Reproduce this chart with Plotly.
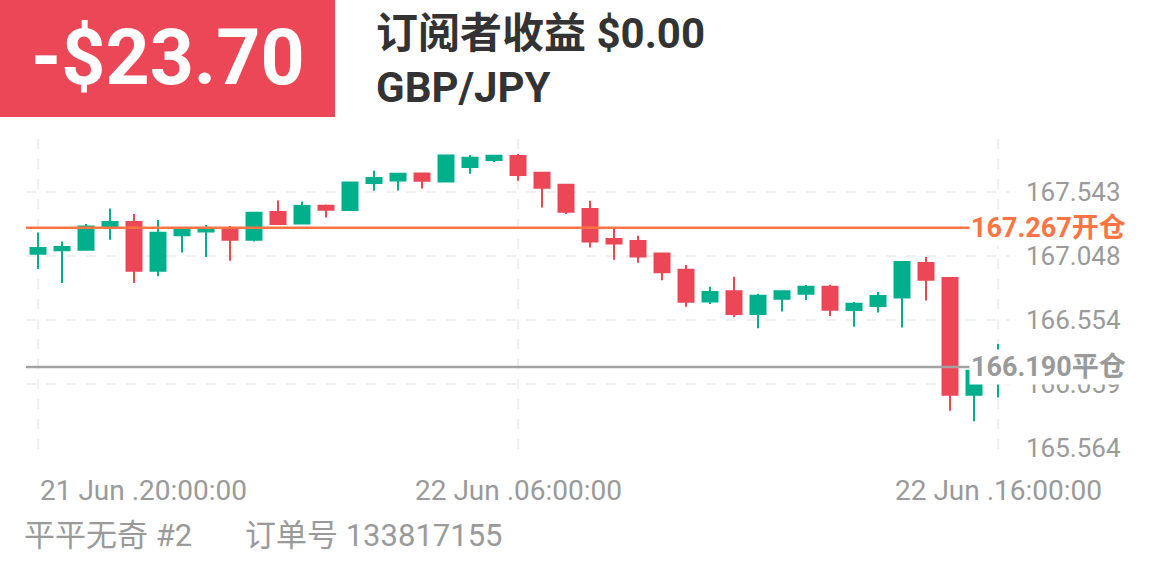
import plotly.graph_objects as go

# ---------------- data ----------------
times = [
    "2023-06-21 20:00", "2023-06-21 20:30", "2023-06-21 21:00", "2023-06-21 21:30",
    "2023-06-21 22:00", "2023-06-21 22:30", "2023-06-21 23:00", "2023-06-21 23:30",
    "2023-06-22 00:00", "2023-06-22 00:30", "2023-06-22 01:00", "2023-06-22 01:30",
    "2023-06-22 02:00", "2023-06-22 02:30", "2023-06-22 03:00", "2023-06-22 03:30",
    "2023-06-22 04:00", "2023-06-22 04:30", "2023-06-22 05:00", "2023-06-22 05:30",
    "2023-06-22 06:00", "2023-06-22 06:30", "2023-06-22 07:00", "2023-06-22 07:30",
    "2023-06-22 08:00", "2023-06-22 08:30", "2023-06-22 09:00", "2023-06-22 09:30",
    "2023-06-22 10:00", "2023-06-22 10:30", "2023-06-22 11:00", "2023-06-22 11:30",
    "2023-06-22 12:00", "2023-06-22 12:30", "2023-06-22 13:00", "2023-06-22 13:30",
    "2023-06-22 14:00", "2023-06-22 14:30", "2023-06-22 15:00", "2023-06-22 15:30",
    "2023-06-22 16:00",
]
opens = [167.066, 167.092, 167.097, 167.277, 167.311, 166.935, 167.208, 167.238,
         167.265, 167.174, 167.388, 167.300, 167.437, 167.404, 167.613, 167.633,
         167.687, 167.625, 167.736, 167.790, 167.821, 167.692, 167.599, 167.412,
         167.180, 167.164, 167.068, 166.942, 166.697, 166.775, 166.600, 166.718,
         166.757, 166.811, 166.631, 166.662, 166.728, 166.994, 166.878, 165.976,
         166.162]
highs = [167.231, 167.161, 167.296, 167.416, 167.373, 167.327, 167.259, 167.288,
         167.280, 167.391, 167.478, 167.470, 167.447, 167.623, 167.708, 167.692,
         167.689, 167.829, 167.829, 167.826, 167.837, 167.694, 167.601, 167.476,
         167.262, 167.205, 167.070, 166.979, 166.811, 166.888, 166.757, 166.780,
         166.824, 166.826, 166.693, 166.770, 167.007, 167.041, 166.880, 166.170,
         166.368]
lows = [166.948, 166.840, 167.095, 167.174, 166.840, 166.891, 167.076, 167.041,
        167.012, 167.161, 167.294, 167.298, 167.347, 167.401, 167.553, 167.555,
        167.571, 167.620, 167.685, 167.775, 167.630, 167.424, 167.373, 167.115,
        167.020, 166.997, 166.860, 166.656, 166.677, 166.574, 166.489, 166.620,
        166.708, 166.585, 166.502, 166.612, 166.496, 166.705, 165.852, 165.770,
        165.955]
closes = [167.110, 167.118, 167.277, 167.311, 166.935, 167.228, 167.257, 167.259,
          167.174, 167.383, 167.296, 167.435, 167.406, 167.617, 167.651, 167.685,
          167.630, 167.826, 167.808, 167.824, 167.674, 167.576, 167.391, 167.161,
          167.146, 167.045, 166.922, 166.695, 166.770, 166.600, 166.741, 166.775,
          166.811, 166.633, 166.680, 166.739, 167.002, 166.865, 165.976, 166.162,
          166.250]

y_grid = [165.564, 166.059, 166.554, 167.048, 167.543, 168.038]
y_labels = ["165.564", "166.059", "166.554", "167.048", "167.543", ""]

x_label_times = ["2023-06-21 20:00", "2023-06-22 06:00", "2023-06-22 16:00"]
x_label_text = ["21 Jun .20:00:00", "22 Jun .06:00:00", "22 Jun .16:00:00"]

open_price = 167.267
close_price = 166.190
open_label = "167.267开仓"
close_label = "166.190平仓"

profit_text = "-$23.70"
subscriber_text = "订阅者收益 $0.00"
symbol_text = "GBP/JPY"
footer_name = "平平无奇 #2"
footer_order = "订单号 133817155"

# ---------------- styling ----------------
W, H = 1161, 580
L, R, T, B = 26, 151, 127, 131
PW, PH = W - L - R, H - T - B

GREEN = "#00AF8C"
RED = "#EB4756"
ORANGE = "#FF7442"
GRAYLINE = "#A3A3A3"
GRID = "#EFEFEF"
LABEL = "#9A9A9A"
DARK = "#333333"
FONT = "Roboto, 'Noto Sans CJK SC', sans-serif"


def px(x):
    return (x - L) / PW


def py(y):
    return (H - B - y) / PH


d = 2.474 / 320
fig = go.Figure()
fig.add_trace(go.Candlestick(
    x=times, open=opens, high=highs, low=lows, close=closes,
    increasing=dict(line=dict(color=GREEN, width=2), fillcolor=GREEN),
    decreasing=dict(line=dict(color=RED, width=2), fillcolor=RED),
    whiskerwidth=0, hoverinfo="skip", showlegend=False,
))

shapes = []
for t in x_label_times:
    shapes.append(dict(type="line", xref="x", yref="paper", x0=t, x1=t,
                       y0=py(449), y1=py(139), layer="below",
                       line=dict(color=GRID, width=2, dash="10px,10px")))
shapes.append(dict(type="line", xref="paper", yref="y", x0=0, x1=px(970),
                   y0=open_price, y1=open_price, line=dict(color=ORANGE, width=2.5)))
shapes.append(dict(type="line", xref="paper", yref="y", x0=0, x1=px(970),
                   y0=close_price, y1=close_price, line=dict(color=GRAYLINE, width=2.5)))
# header red box
shapes.append(dict(type="rect", xref="paper", yref="paper", x0=px(0), x1=px(335),
                   y0=py(117), y1=py(0), fillcolor=RED, line=dict(width=0), layer="above"))

ann = []
ann.append(dict(xref="paper", yref="y", x=px(969), y=open_price, xanchor="left",
                yanchor="middle", text="<b>" + open_label + "</b>", showarrow=False,
                bgcolor="white", borderpad=1,
                font=dict(family=FONT, size=27, color=ORANGE)))
ann.append(dict(xref="paper", yref="y", x=px(969), y=close_price, xanchor="left",
                yanchor="middle", text="<b>" + close_label + "</b>", showarrow=False,
                bgcolor="white", borderpad=1,
                font=dict(family=FONT, size=27, color=LABEL)))
for i, (t, s) in enumerate(zip(x_label_times, x_label_text)):
    ann.append(dict(xref="x", yref="paper", x=t, y=py(490),
                    xanchor="left" if i == 0 else "center", yanchor="middle",
                    text=s, showarrow=False,
                    font=dict(family=FONT, size=28, color=LABEL)))
ann.append(dict(xref="paper", yref="paper", x=px(167.5), y=py(58), xanchor="center",
                yanchor="middle", text="<b>" + profit_text + "</b>", showarrow=False,
                font=dict(family=FONT, size=77, color="white")))
ann.append(dict(xref="paper", yref="paper", x=px(374), y=py(34), xanchor="left",
                yanchor="middle", text="<b>" + subscriber_text + "</b>", showarrow=False,
                font=dict(family=FONT, size=42, color=DARK)))
ann.append(dict(xref="paper", yref="paper", x=px(374), y=py(88), xanchor="left",
                yanchor="middle", text="<b>" + symbol_text + "</b>", showarrow=False,
                font=dict(family=FONT, size=42, color=DARK)))
ann.append(dict(xref="paper", yref="paper", x=px(22), y=py(535), xanchor="left",
                yanchor="middle", text=footer_name, showarrow=False,
                font=dict(family=FONT, size=31, color=LABEL)))
ann.append(dict(xref="paper", yref="paper", x=px(243), y=py(535), xanchor="left",
                yanchor="middle", text=footer_order, showarrow=False,
                font=dict(family=FONT, size=31, color=LABEL)))

fig.update_layout(
    width=W, height=H, autosize=False,
    margin=dict(l=L, r=R, t=T, b=B, pad=0),
    paper_bgcolor="white", plot_bgcolor="white",
    font=dict(family=FONT),
    showlegend=False,
    boxgap=0.375, boxgroupgap=0,
    shapes=shapes, annotations=ann,
    xaxis=dict(range=["2023-06-21 19:45", "2023-06-22 16:15"], showgrid=False,
               zeroline=False, showticklabels=False, ticks="", showline=False,
               rangeslider=dict(visible=False), fixedrange=True),
    yaxis=dict(range=[165.564 - d, 168.038 + d], side="right", tickmode="array",
               tickvals=y_grid, ticktext=y_labels, showgrid=True, gridcolor=GRID,
               gridwidth=2, griddash="10px,10px", zeroline=False, showline=False,
               ticks="", ticklabelstandoff=15,
               tickfont=dict(family=FONT, size=26, color=LABEL), fixedrange=True),
)

fig.write_html("out.html", config={"displayModeBar": False},
               post_script="document.body.style.margin='0';document.body.style.overflow='hidden';")
